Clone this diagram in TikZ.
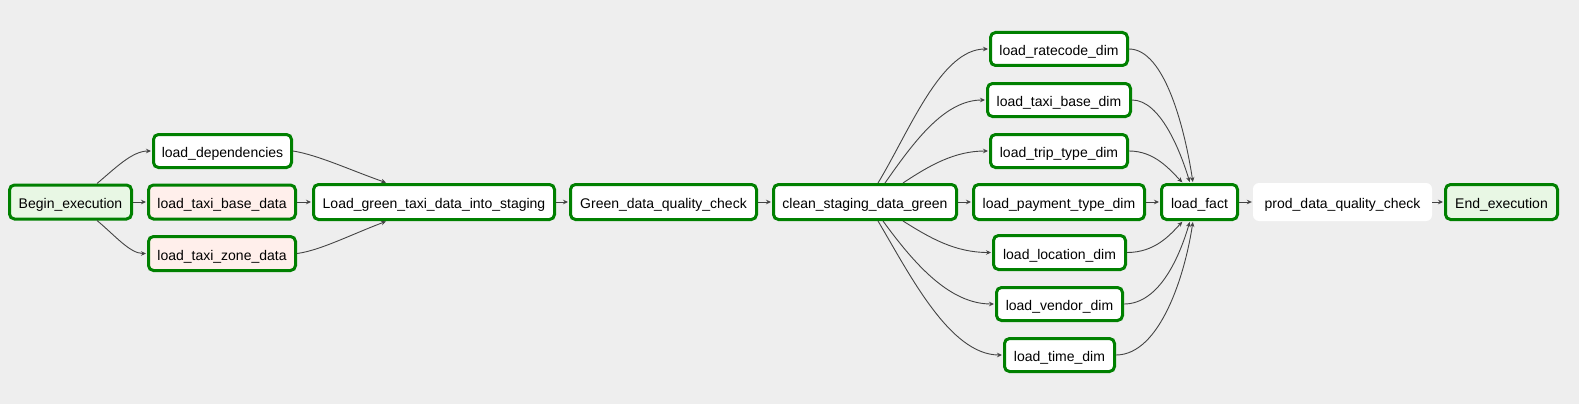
\documentclass[tikz,border=0pt]{standalone}
\usepackage{fontspec}
\setmainfont{Liberation Sans}
\usetikzlibrary{arrows.meta}
\definecolor{bgc}{HTML}{EEEEEE}
\definecolor{taskgreen}{HTML}{008000}
\definecolor{dummyfill}{HTML}{E8F7E4}
\definecolor{pyfill}{HTML}{FFEFEB}
\definecolor{edgegray}{HTML}{444444}
\tikzset{
  task/.style={draw=taskgreen, line width=3pt, rounded corners=5pt, minimum height=34pt,
    inner sep=0pt, font=\fontsize{14}{16}\selectfont, text=black, fill=white,
    text height=16pt, text depth=2.4pt},
  plain/.style={draw=none, rounded corners=6pt, minimum height=38pt, inner sep=0pt,
    font=\fontsize{14}{16}\selectfont, text=black, fill=white,
    text height=16pt, text depth=2.4pt},
  conn/.style={draw=edgegray, line width=0.9pt, -{Stealth[length=5pt,width=4.5pt]}, shorten >=1pt}
}
\begin{document}
\begin{tikzpicture}[x=1pt,y=-1pt]
\useasboundingbox (0,0) rectangle (1579,404);
\fill[bgc] (0,0) rectangle (1579,404);

\node[task, fill=dummyfill, minimum width=122pt] (begin) at (70.5,202) {Begin\_execution};
\node[task, minimum width=138pt, minimum height=33pt] (dep) at (222.5,151) {load\_dependencies};
\node[task, fill=pyfill, minimum width=147pt] (tbase) at (222,202) {load\_taxi\_base\_data};
\node[task, fill=pyfill, minimum width=147pt] (tzone) at (222,253.5) {load\_taxi\_zone\_data};
\node[task, minimum width=241pt, minimum height=35pt] (green) at (434,202) {Load\_green\_taxi\_data\_into\_staging};
\node[task, minimum width=186pt, minimum height=35pt] (gdq) at (663.5,202) {Green\_data\_quality\_check};
\node[task, minimum width=183pt, minimum height=35pt] (clean) at (865,202) {clean\_staging\_data\_green};

\node[task, minimum width=137pt, minimum height=33pt] (rate) at (1059,49) {load\_ratecode\_dim};
\node[task, minimum width=143pt, minimum height=33pt] (tbd) at (1059,100) {load\_taxi\_base\_dim};
\node[task, minimum width=137pt, minimum height=33pt] (trip) at (1059,151) {load\_trip\_type\_dim};
\node[task, minimum width=171pt, minimum height=35pt] (pay) at (1059,202) {load\_payment\_type\_dim};
\node[task, minimum width=132pt] (loc) at (1059.5,252.5) {load\_location\_dim};
\node[task, minimum width=126pt, minimum height=33pt] (vend) at (1059.5,304) {load\_vendor\_dim};
\node[task, minimum width=110pt, minimum height=33pt] (time) at (1059.5,355) {load\_time\_dim};

\node[task, minimum width=76pt, minimum height=35pt] (fact) at (1199.5,202) {load\_fact};
\node[plain, minimum width=179pt] (prod) at (1342.5,202) {prod\_data\_quality\_check};
\node[task, fill=dummyfill, minimum width=112pt, minimum height=35pt] (end) at (1501.5,202) {End\_execution};

% left part
\draw[conn] ([xshift=26.5]begin.north) .. controls +(18,-15) and +(-20,0) .. (dep.west);
\draw[conn] (begin) -- (tbase);
\draw[conn] ([xshift=26.5]begin.south) .. controls +(18,15) and +(-17,0) .. (tzone.west);
\draw[conn] (dep.east) .. controls +(25,4) and +(-37,-13) .. ([xshift=-47]green.north);
\draw[conn] (tbase) -- (green);
\draw[conn] (tzone.east) .. controls +(23,-3) and +(-37,14) .. ([xshift=-47]green.south);
\draw[conn] (green) -- (gdq);
\draw[conn] (gdq) -- (clean);

% clean -> dims
\draw[conn] ([xshift=13]clean.north) .. controls +(32,-53) and +(-48,0) .. (rate.west);
\draw[conn] ([xshift=20]clean.north) .. controls +(30,-43) and +(-41,0) .. (tbd.west);
\draw[conn] ([xshift=38]clean.north) .. controls +(27,-18) and +(-34,0) .. (trip.west);
\draw[conn] (clean) -- (pay);
\draw[conn] ([xshift=38]clean.south) .. controls +(27,17) and +(-37,0) .. (loc.west);
\draw[conn] ([xshift=18]clean.south) .. controls +(32,44) and +(-45,0) .. (vend.west);
\draw[conn] ([xshift=13]clean.south) .. controls +(32,54) and +(-53,0) .. (time.west);

% dims -> fact
\draw[conn] (rate.east) .. controls +(36,0) and +(-8,-53) .. ([xshift=-6.5]fact.north);
\draw[conn] (tbd.east) .. controls +(28,0) and +(-10,-33) .. ([xshift=-9.5]fact.north);
\draw[conn] (trip.east) .. controls +(26,0) and +(-13,-13) .. ([xshift=-16.5]fact.north);
\draw[conn] (pay) -- (fact);
\draw[conn] (loc.east) .. controls +(28,0) and +(-13,14) .. ([xshift=-16.5]fact.south);
\draw[conn] (vend.east) .. controls +(36,0) and +(-10,34) .. ([xshift=-9.5]fact.south);
\draw[conn] (time.east) .. controls +(44,0) and +(-8,54) .. ([xshift=-6.5]fact.south);

\draw[conn] (fact) -- (prod);
\draw[conn] (prod) -- (end);
\end{tikzpicture}
\end{document}
